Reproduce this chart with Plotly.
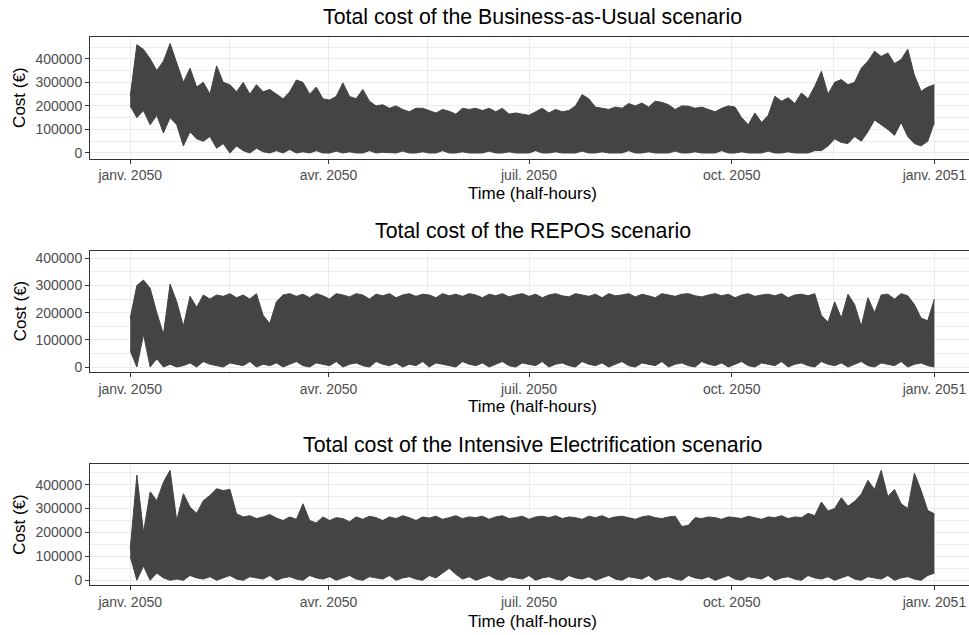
import pandas as pd
import plotly.graph_objects as go

# ---------------- data (k€; 3-day resolution) ----------------
START = "2050-01-01 00:00"
END = "2050-12-31 23:30"

TITLES = ["Total cost of the Business-as-Usual scenario",
          "Total cost of the REPOS scenario",
          "Total cost of the Intensive Electrification scenario"]

X_TICK_DATES = ["2050-01-01", "2050-04-01", "2050-07-01", "2050-10-01", "2051-01-01"]
X_TICK_TEXT = ["janv. 2050", "avr. 2050", "juil. 2050", "oct. 2050", "janv. 2051"]
X_MINOR_DATES = ["2050-02-15", "2050-05-16", "2050-08-16", "2050-11-16"]
Y_TICKS = [0, 100000, 200000, 300000, 400000]
Y_TICK_TEXT = ["0", "100000", "200000", "300000", "400000"]

# Business-as-Usual : upper / lower envelope of the half-hourly cost (k€)
bau_hi = [240, 460, 440, 400, 350, 390, 465, 380, 300, 360, 280, 300, 250, 370, 300, 290,
          260, 300, 250, 290, 260, 270, 250, 230, 260, 310, 300, 250, 280, 230, 225, 240,
          298, 240, 230, 270, 220, 200, 205, 190, 200, 185, 175, 190, 190, 180, 170, 185,
          177, 165, 190, 185, 190, 180, 190, 175, 190, 165, 170, 165, 160, 175, 190, 170,
          185, 175, 180, 200, 248, 230, 195, 190, 185, 195, 190, 210, 200, 212, 195, 220,
          215, 205, 185, 200, 199, 190, 195, 185, 175, 190, 200, 195, 150, 120, 170, 130,
          160, 241, 220, 235, 210, 255, 230, 283, 347, 250, 300, 312, 290, 300, 360, 390,
          432, 410, 425, 380, 397, 441, 330, 262, 280, 290]
bau_lo = [200, 150, 180, 120, 160, 85, 150, 120, 30, 90, 60, 50, 70, 20, 40, 0,
          30, 10, 0, 20, 5, 0, 10, 0, 15, 0, 5, 0, 10, 0, 0, 8,
          0, 5, 0, 0, 10, 0, 3, 0, 0, 8, 0, 0, 5, 0, 0, 10,
          0, 0, 5, 0, 0, 0, 8, 0, 0, 5, 0, 0, 0, 10, 0, 0,
          5, 0, 0, 0, 8, 0, 0, 5, 0, 0, 0, 10, 0, 0, 5, 0,
          0, 0, 8, 0, 0, 5, 0, 0, 0, 10, 0, 0, 5, 0, 0, 0,
          8, 0, 0, 5, 0, 0, 0, 10, 10, 30, 60, 45, 40, 70, 50, 90,
          140, 120, 100, 75, 130, 70, 40, 30, 50, 130]

# REPOS
repos_hi = [180, 300, 320, 290, 200, 120, 305, 240, 150, 260, 220, 265, 250, 265, 260, 270,
            255, 265, 250, 270, 190, 160, 240, 265, 270, 260, 268, 255, 270, 262, 250, 270,
            265, 258, 270, 265, 250, 268, 262, 270, 255, 265, 270, 260, 268, 265, 255, 270,
            262, 268, 260, 270, 265, 255, 268, 262, 270, 258, 265, 270, 260, 268, 255, 265,
            270, 262, 258, 270, 265, 260, 268, 255, 270, 262, 265, 270, 258, 268, 262, 255,
            270, 265, 260, 268, 270, 262, 258, 265, 270, 262, 268, 255, 265, 270, 260, 265,
            268, 262, 270, 255, 265, 268, 262, 270, 190, 165, 240, 180, 268, 230, 150, 255,
            200, 265, 268, 250, 270, 262, 230, 180, 170, 250]
repos_lo = [60, 0, 120, 0, 30, 0, 10, 0, 5, 15, 0, 20, 10, 5, 0, 15,
            10, 5, 20, 0, 10, 5, 15, 0, 10, 20, 5, 0, 15, 10, 5, 20,
            0, 10, 15, 5, 0, 20, 10, 5, 15, 0, 10, 5, 20, 0, 15, 10,
            5, 0, 20, 10, 5, 15, 0, 10, 20, 5, 0, 15, 10, 5, 20, 0,
            10, 15, 5, 0, 20, 10, 5, 15, 0, 10, 20, 5, 0, 15, 10, 5,
            20, 0, 10, 15, 5, 0, 20, 10, 5, 15, 0, 10, 20, 5, 0, 15,
            10, 5, 20, 0, 10, 15, 5, 0, 20, 10, 5, 15, 0, 10, 20, 5,
            0, 15, 10, 5, 20, 0, 10, 15, 5, 0]

# Intensive Electrification
elec_hi = [130, 440, 200, 370, 333, 410, 460, 250, 362, 306, 280, 333, 355, 383, 375, 380,
           278, 265, 270, 258, 265, 275, 260, 250, 265, 255, 320, 250, 240, 265, 250, 262,
           258, 245, 265, 255, 268, 262, 250, 265, 258, 270, 262, 250, 265, 260, 268, 255,
           262, 270, 258, 265, 262, 268, 255, 265, 270, 258, 262, 268, 255, 265, 268, 262,
           270, 258, 265, 262, 255, 268, 262, 270, 258, 265, 268, 262, 255, 265, 270, 262,
           258, 265, 268, 225, 230, 262, 258, 265, 262, 255, 265, 262, 258, 268, 262, 255,
           265, 262, 270, 258, 265, 262, 280, 270, 327, 290, 300, 345, 310, 330, 360, 418,
           380, 460, 350, 380, 320, 300, 448, 376, 292, 278]
elec_lo = [100, 0, 60, 0, 30, 10, 0, 5, 0, 20, 10, 5, 15, 0, 10, 20,
           5, 0, 15, 10, 5, 20, 0, 10, 15, 5, 0, 20, 10, 5, 15, 0,
           10, 20, 5, 0, 15, 10, 5, 20, 0, 10, 15, 5, 0, 20, 10, 30,
           50, 25, 5, 15, 0, 10, 20, 5, 0, 15, 10, 5, 20, 0, 10, 15,
           5, 0, 20, 10, 5, 15, 0, 10, 20, 5, 0, 15, 10, 5, 20, 0,
           10, 15, 5, 0, 20, 10, 5, 15, 0, 10, 20, 5, 0, 15, 10, 5,
           20, 0, 10, 15, 5, 0, 20, 10, 5, 15, 0, 10, 20, 5, 0, 15,
           10, 5, 20, 0, 10, 15, 5, 0, 20, 30]

SERIES = [(bau_hi, bau_lo), (repos_hi, repos_lo), (elec_hi, elec_lo)]

# ---------------- layout constants ----------------
W, H = 969, 635
FONT = "Liberation Sans, Arial, sans-serif"
LINE_COL = "#444444"
GRID_COL = "#EBEBEB"
TICK_COL = "#4D4D4D"
BORDER_COL = "#333333"

PANELS = [
    dict(top=37.3, bottom=158.5, yr=[-23400, 491400], title_y=17.5, xt_y=193.3),
    dict(top=250.7, bottom=371.7, yr=[-17300, 428000], title_y=231, xt_y=407),
    dict(top=464.3, bottom=585.3, yr=[-21000, 485000], title_y=445, xt_y=621.7),
]
X_LEFT = 90
X_CENTER = 532.5

t0 = pd.Timestamp("2050-01-01")
x_range = [t0 - pd.Timedelta(days=18.25), t0 + pd.Timedelta(days=380.7)]

fig = go.Figure()
for k, (hi, lo) in enumerate(SERIES):
    xs = pd.date_range(START, END, periods=len(hi))
    sfx = "" if k == 0 else str(k + 1)
    fig.add_trace(go.Scatter(x=xs, y=[v * 1000 for v in lo], mode="lines",
                             line=dict(color=LINE_COL, width=1),
                             xaxis="x" + sfx, yaxis="y" + sfx,
                             showlegend=False, hoverinfo="skip"))
    fig.add_trace(go.Scatter(x=xs, y=[v * 1000 for v in hi], mode="lines",
                             line=dict(color=LINE_COL, width=1),
                             fill="tonexty", fillcolor=LINE_COL,
                             xaxis="x" + sfx, yaxis="y" + sfx,
                             showlegend=False, hoverinfo="skip"))

annotations = []
for k, p in enumerate(PANELS):
    sfx = "" if k == 0 else str(k + 1)
    ydom = [1 - p["bottom"] / H, 1 - p["top"] / H]
    fig.layout["xaxis" + sfx] = dict(
        domain=[X_LEFT / W, 1.0], range=x_range, type="date",
        anchor="y" + sfx, automargin=False,
        tickvals=X_TICK_DATES, ticktext=X_TICK_TEXT,
        tickfont=dict(family=FONT, size=14, color=TICK_COL),
        ticks="outside", ticklen=4, tickwidth=1, tickcolor=BORDER_COL,
        showgrid=True, gridcolor=GRID_COL, gridwidth=1.3,
        minor=dict(tickvals=X_MINOR_DATES, showgrid=True, gridcolor=GRID_COL, gridwidth=0.7),
        showline=True, linecolor=BORDER_COL, linewidth=1, mirror=True,
        zeroline=False, fixedrange=True,
    )
    fig.layout["yaxis" + sfx] = dict(
        domain=ydom, range=p["yr"], anchor="x" + sfx, automargin=False,
        tickvals=Y_TICKS, ticktext=Y_TICK_TEXT,
        tickfont=dict(family=FONT, size=14, color=TICK_COL),
        ticks="outside", ticklen=4, tickwidth=1, tickcolor=BORDER_COL,
        showgrid=True, gridcolor=GRID_COL, gridwidth=1.3,
        minor=dict(dtick=50000, tick0=0, showgrid=True, gridcolor=GRID_COL, gridwidth=0.7),
        showline=True, linecolor=BORDER_COL, linewidth=1, mirror=False,
        zeroline=False, fixedrange=True,
    )
    annotations.append(dict(text=TITLES[k], x=X_CENTER / W, y=1 - p["title_y"] / H,
                            xref="paper", yref="paper", showarrow=False,
                            xanchor="center", yanchor="middle",
                            font=dict(family=FONT, size=21.3, color="black")))
    annotations.append(dict(text="Time (half-hours)", x=X_CENTER / W, y=1 - p["xt_y"] / H,
                            xref="paper", yref="paper", showarrow=False,
                            xanchor="center", yanchor="middle",
                            font=dict(family=FONT, size=17, color="black")))
    annotations.append(dict(text="Cost (€)", x=20 / W,
                            y=1 - (p["top"] + p["bottom"]) / 2 / H,
                            xref="paper", yref="paper", showarrow=False, textangle=-90,
                            xanchor="center", yanchor="middle",
                            font=dict(family=FONT, size=17, color="black")))

fig.update_layout(width=W, height=H,
                  margin=dict(l=0, r=0, t=0, b=0, pad=0, autoexpand=False),
                  paper_bgcolor="white", plot_bgcolor="white",
                  annotations=annotations, showlegend=False)

fig.write_html("out.html", config={"displayModeBar": False},
               post_script="document.body.style.margin='0px';"
                           "document.body.style.padding='0px';"
                           "document.body.style.overflow='hidden';")
